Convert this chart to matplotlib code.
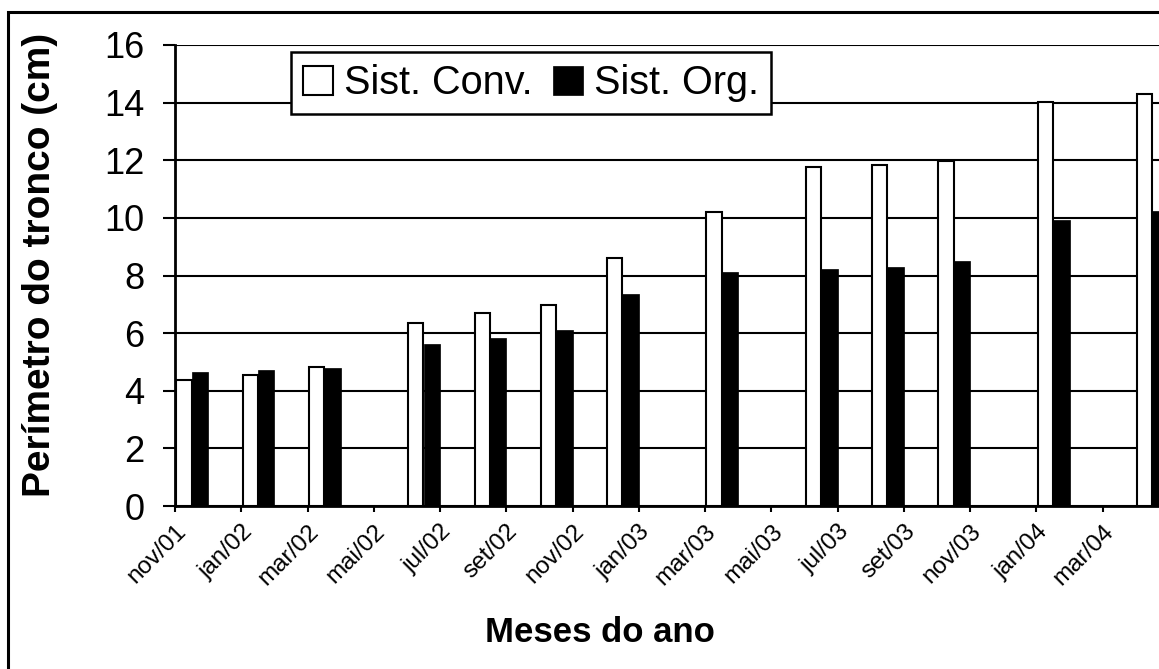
import matplotlib
matplotlib.use("Agg")
import matplotlib.pyplot as plt
from matplotlib.patches import Rectangle

plt.rcParams['font.family'] = ['Liberation Sans', 'DejaVu Sans']

# datas das medicoes (mes/ano) e perimetro do tronco (cm)
MESES_MEDICAO = ["nov/01", "jan/02", "mar/02", "jun/02", "ago/02", "out/02", "dez/02",
                 "mar/03", "jun/03", "ago/03", "out/03", "jan/04", "abr/04"]
SIST_CONV = [4.37, 4.55, 4.84, 6.36, 6.71, 6.98, 8.60, 10.22, 11.78, 11.84, 11.96, 14.02, 14.29]
SIST_ORG = [4.66, 4.72, 4.78, 5.61, 5.82, 6.11, 7.36, 8.11, 8.22, 8.29, 8.51, 9.91, 10.25]

ROTULOS_EIXO = ["nov/01", "jan/02", "mar/02", "mai/02", "jul/02", "set/02", "nov/02", "jan/03",
                "mar/03", "mai/03", "jul/03", "set/03", "nov/03", "jan/04", "mar/04"]

MESES = ["jan", "fev", "mar", "abr", "mai", "jun", "jul", "ago", "set", "out", "nov", "dez"]


def mes_index(rotulo):
    # numero de meses a partir de nov/01
    mes, ano = rotulo.split("/")
    return (int(ano) - 1) * 12 + MESES.index(mes) + 1 - 11


fig = plt.figure(figsize=(11.59, 6.69), dpi=100)

# moldura externa (recortada na digitalizacao)
fig.patches.append(Rectangle((8 / 1159, -0.05), 1.2, 1 - 11.5 / 669 + 0.05,
                             transform=fig.transFigure, fill=False,
                             edgecolor='black', linewidth=2.2))

ax = fig.add_axes([175 / 1159, 1 - 506 / 669, (1169 - 175) / 1159, (506 - 45) / 669])

x = [mes_index(m) for m in MESES_MEDICAO]
ax.bar([v + 0.27 for v in x], SIST_CONV, width=0.46, color='white', edgecolor='black',
       linewidth=1.5, label='Sist. Conv.', zorder=3)
ax.bar([v + 0.75 for v in x], SIST_ORG, width=0.5, color='black', edgecolor='black',
       linewidth=0.5, label='Sist. Org.', zorder=3)

ax.set_xlim(0, 30)
ax.set_ylim(0, 16)
ax.set_yticks(range(0, 17, 2))
ax.set_xticks([mes_index(r) for r in ROTULOS_EIXO])
ax.set_xticklabels(ROTULOS_EIXO, rotation=45, ha='right', rotation_mode='anchor', fontsize=17.5)
ax.tick_params(axis='y', labelsize=26, length=9, width=1.5, pad=13)
ax.tick_params(axis='x', length=4.5, width=1.5, pad=6)

ax.grid(axis='y', color='black', linewidth=1.5, zorder=0)
ax.set_axisbelow(True)
for s in ['top', 'right']:
    ax.spines[s].set_visible(False)
for s in ['left', 'bottom']:
    ax.spines[s].set_linewidth(2)
    ax.spines[s].set_zorder(4)

fig.text(40 / 1159, 1 - 265 / 669, 'Perímetro do tronco (cm)', rotation=90,
         fontsize=28, fontweight='bold', ha='center', va='center')
fig.text(600 / 1159, 1 - 632 / 669, 'Meses do ano', fontsize=25, fontweight='bold',
         ha='center', va='center')

leg = ax.legend(ncol=2, loc='upper left', bbox_to_anchor=(291 / 1159, 1 - 52 / 669),
                bbox_transform=fig.transFigure, borderaxespad=0, fontsize=28.5,
                fancybox=False, framealpha=1, edgecolor='black', handlelength=0.75,
                handleheight=0.75, handletextpad=0.3, columnspacing=0.5, borderpad=0.3)
leg.get_frame().set_linewidth(1.8)
leg.set_zorder(5)

fig.savefig('out.png', dpi=100)
